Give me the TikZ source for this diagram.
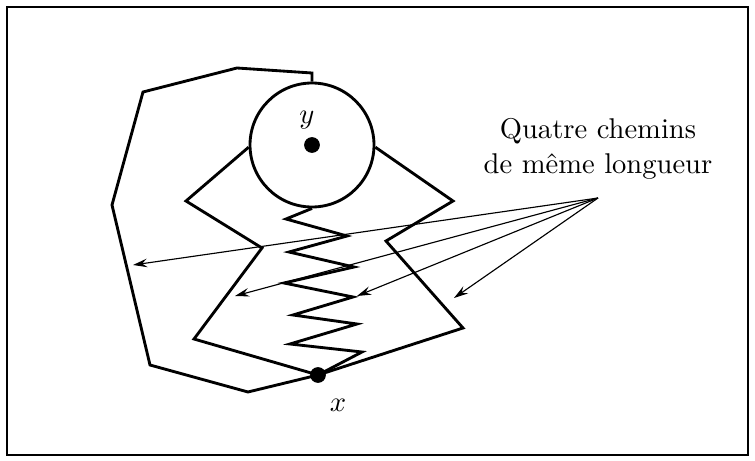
\documentclass[tikz,border=0pt]{standalone}
\usepackage{tikz}
\usetikzlibrary{arrows.meta}

\begin{document}
\begin{tikzpicture}[x=0.35pt, y=-0.35pt,
          path/.style={line width=1pt, line join=miter},
          dot/.style={circle, fill, inner sep=0pt, minimum size=5.5pt},
          arr/.style={-{Stealth[length=5pt, width=3pt, inset=1.8pt]}, thin}
        ]
        \useasboundingbox (0,0) rectangle (755,461);
        \draw[line width=0.8pt] (7,7) rectangle (748,455);

        % ball around y and the two end points
        \node[draw, circle, line width=1pt, inner sep=0pt, minimum size=43.4pt] (ball) at (312,145) {};
        \node[dot] (y) at (312,145) {};
        \node[dot] (x) at (318,375) {};
        \node (ylab) at (307,120) {$y$};
        \node (xlab) at (338,405) {$x$};

        % outer path
        \draw[path] (ball.north) -- (312,73) -- (237,68) -- (143,92) -- (112,205)
              -- (150,365) -- (248,392) -- (x.center);
        % left path
        \draw[path] (ball.182) -- (186,201) -- (262,248) -- (194,339) -- (x.center);
        % right path
        \draw[path] (ball.-2) -- (453,201) -- (386,241) -- (463,328) -- (x.center);
        % zigzag
        \draw[path] (ball.south) -- (286,219) -- (347,236) -- (289,252) -- (354,267)
              -- (284,283) -- (353,297) -- (293,315) -- (357,324)
              -- (290,344) -- (362,352) -- (x.center);

        \coordinate (src) at (598,198);
        \coordinate (t1) at (133,265);
        \coordinate (t2) at (235,296);
        \coordinate (t3) at (357,296);
        \coordinate (t4) at (454,298);
        \node[align=center] (lab) at (598,149) {Quatre chemins\\de m\^eme longueur};

        \draw[arr] (src) -- (t1);
        \draw[arr] (src) -- (t2);
        \draw[arr] (src) -- (t3);
        \draw[arr] (src) -- (t4);
      \end{tikzpicture}
\end{document}
